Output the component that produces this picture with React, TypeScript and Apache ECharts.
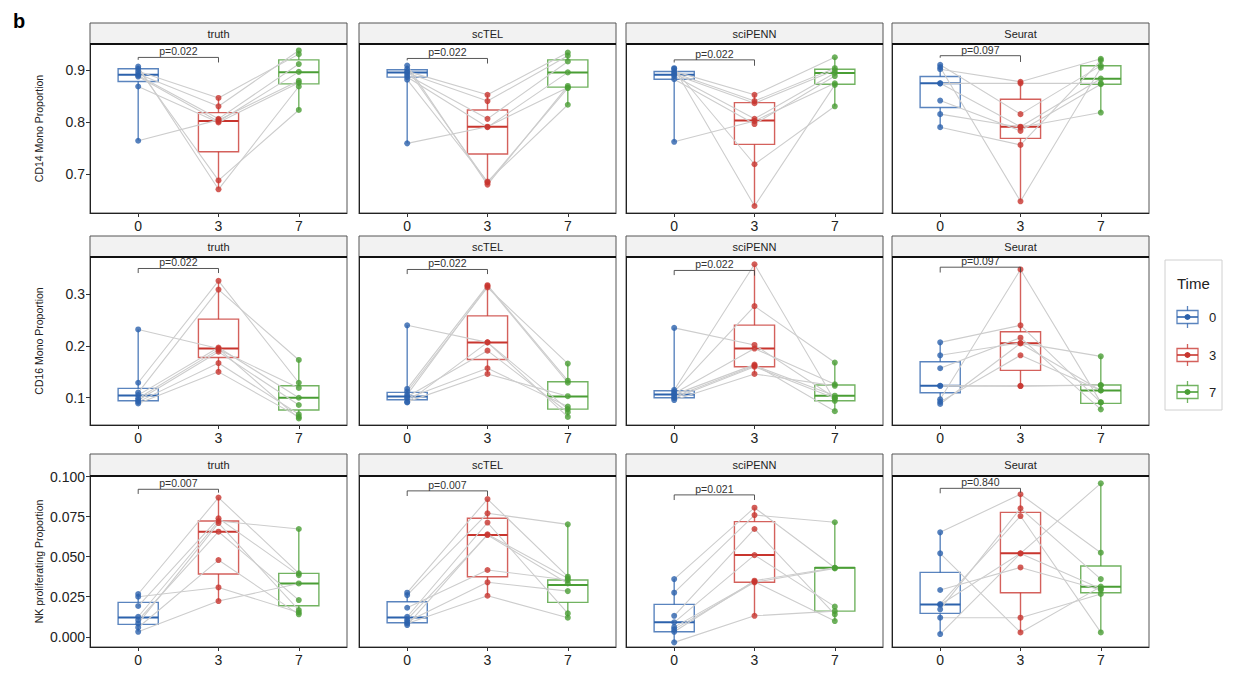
import React, { useEffect, useRef } from 'react';
import * as echarts from 'echarts';

// ---------- data ----------
const timeLabels = ['0', '3', '7'];
const methods = ['truth', 'scTEL', 'sciPENN', 'Seurat'];
const rowTitles = ['CD14 Mono Proportion', 'CD16 Mono Proportion', 'NK proliferating Proportion'];
const rowYMin = [0.6256, 0.0473, -0.0064];
const rowYMax = [0.9494, 0.372, 0.1004];
const rowTicks = [[0.7, 0.8, 0.9], [0.1, 0.2, 0.3], [0, 0.025, 0.05, 0.075, 0.1]];
const rowDecimals = [1, 1, 3];
const pLabels = [
  ['p=0.022', 'p=0.022', 'p=0.022', 'p=0.097'],
  ['p=0.022', 'p=0.022', 'p=0.022', 'p=0.097'],
  ['p=0.007', 'p=0.007', 'p=0.021', 'p=0.840'],
];
// bracket: [y, left tip y, right tip y]
const brackets = [
  [[0.9237, 0.919, 0.914], [0.9217, 0.918, 0.912], [0.919, 0.914, 0.9077], [0.927, 0.923, 0.915]],
  [[0.3498, 0.341, 0.341], [0.3479, 0.339, 0.339], [0.346, 0.337, 0.336], [0.3523, 0.342, 0.342]],
  [[0.0921, 0.0892, 0.09], [0.0911, 0.0879, 0.0879], [0.0886, 0.0854, 0.0854], [0.0927, 0.0896, 0.09]],
];

// paired subject values: [day0[], day3[], day7[]]
const cd14Truth = [
  [0.906, 0.902, 0.897, 0.892, 0.889, 0.887, 0.868, 0.764],
  [0.671, 0.688, 0.846, 0.830, 0.806, 0.801, 0.799, 0.804],
  [0.868, 0.823, 0.930, 0.937, 0.911, 0.896, 0.875, 0.879],
];
const cd14ScTEL = [
  [0.908, 0.902, 0.897, 0.894, 0.890, 0.886, 0.881, 0.759],
  [0.680, 0.684, 0.852, 0.840, 0.806, 0.790, 0.686, 0.791],
  [0.869, 0.865, 0.933, 0.927, 0.916, 0.895, 0.833, 0.866],
];
const cd14SciPENN = [
  [0.903, 0.902, 0.897, 0.894, 0.891, 0.888, 0.882, 0.762],
  [0.639, 0.719, 0.852, 0.840, 0.836, 0.806, 0.796, 0.802],
  [0.871, 0.830, 0.924, 0.903, 0.899, 0.894, 0.888, 0.874],
];
const cd14Seurat = [
  [0.9096, 0.905, 0.901, 0.874, 0.874, 0.841, 0.815, 0.790],
  [0.815, 0.648, 0.877, 0.874, 0.791, 0.783, 0.790, 0.756],
  [0.908, 0.904, 0.921, 0.874, 0.883, 0.8724, 0.818, 0.918],
];
const cd16Truth = [
  [0.232, 0.129, 0.110, 0.105, 0.099, 0.095, 0.092, 0.089],
  [0.195, 0.326, 0.309, 0.197, 0.193, 0.189, 0.167, 0.150],
  [0.060, 0.129, 0.173, 0.100, 0.119, 0.086, 0.068, 0.063],
];
const cd16ScTEL = [
  [0.240, 0.117, 0.112, 0.106, 0.102, 0.099, 0.092, 0.091],
  [0.207, 0.3175, 0.313, 0.316, 0.191, 0.157, 0.146, 0.207],
  [0.078, 0.133, 0.166, 0.129, 0.072, 0.083, 0.103, 0.063],
];
const cd16SciPENN = [
  [0.235, 0.115, 0.112, 0.108, 0.106, 0.102, 0.099, 0.0955],
  [0.202, 0.358, 0.277, 0.195, 0.164, 0.162, 0.160, 0.146],
  [0.100, 0.094, 0.168, 0.126, 0.074, 0.104, 0.099, 0.123],
];
const cd16Seurat = [
  [0.207, 0.182, 0.157, 0.123, 0.123, 0.097, 0.092, 0.088],
  [0.240, 0.206, 0.216, 0.123, 0.1225, 0.348, 0.182, 0.205],
  [0.091, 0.180, 0.0775, 0.1245, 0.124, 0.091, 0.114, 0.114],
];
const nkTruth = [
  [0.0267, 0.025, 0.0192, 0.0125, 0.0104, 0.0083, 0.0058, 0.0031],
  [0.0869, 0.0308, 0.074, 0.0723, 0.0656, 0.071, 0.0479, 0.0223],
  [0.0396, 0.0152, 0.0385, 0.0673, 0.0229, 0.0167, 0.014, 0.0333],
];
const nkScTEL = [
  [0.0275, 0.026, 0.0181, 0.0125, 0.0108, 0.0094, 0.0083, 0.0073],
  [0.086, 0.0771, 0.0417, 0.0713, 0.0635, 0.034, 0.0256, 0.064],
  [0.0375, 0.0702, 0.0354, 0.0146, 0.0333, 0.0285, 0.0119, 0.0365],
];
const nkSciPENN = [
  [0.036, 0.0275, 0.0131, 0.009, 0.006, 0.0046, 0.0031, -0.0035],
  [0.0806, 0.076, 0.0673, 0.051, 0.0344, 0.034, 0.035, 0.0131],
  [0.0431, 0.0715, 0.014, 0.0188, 0.0098, 0.0427, 0.0431, 0.016],
];
const nkSeurat = [
  [0.0652, 0.0521, 0.0292, 0.0204, 0.020, 0.0171, 0.0119, 0.0017],
  [0.089, 0.0027, 0.0433, 0.0754, 0.0521, 0.0802, 0.0119, 0.052],
  [0.0525, 0.0313, 0.0292, 0.0027, 0.0958, 0.036, 0.0267, 0.030],
];

// box statistics per day: [min, q1, median, q3, max]
const cd14TruthBox = [[0.765, 0.8776, 0.8904, 0.9019, 0.9077], [0.671, 0.743, 0.802, 0.818, 0.846], [0.823, 0.873, 0.8955, 0.919, 0.9365]];
const cd14ScTELBox = [[0.759, 0.886, 0.895, 0.900, 0.908], [0.680, 0.7385, 0.791, 0.823, 0.852], [0.833, 0.8667, 0.895, 0.919, 0.933]];
const cd14SciPENNBox = [[0.762, 0.882, 0.8904, 0.8968, 0.903], [0.639, 0.757, 0.8026, 0.837, 0.852], [0.8295, 0.8724, 0.8936, 0.901, 0.9237]];
const cd14SeuratBox = [[0.790, 0.8276, 0.8744, 0.887, 0.9096], [0.648, 0.7686, 0.791, 0.8436, 0.877], [0.818, 0.8724, 0.8827, 0.9077, 0.9205]];
const cd16TruthBox = [[0.089, 0.0942, 0.1045, 0.118, 0.232], [0.150, 0.1779, 0.1952, 0.2519, 0.326], [0.060, 0.0762, 0.100, 0.1232, 0.1734]];
const cd16ScTELBox = [[0.091, 0.096, 0.1026, 0.1103, 0.2403], [0.1457, 0.174, 0.2068, 0.2583, 0.3175], [0.0633, 0.078, 0.1026, 0.131, 0.1663]];
const cd16SciPENNBox = [[0.0955, 0.100, 0.1064, 0.1135, 0.235], [0.1457, 0.1598, 0.1952, 0.2403, 0.358], [0.0743, 0.0942, 0.1039, 0.1245, 0.168]];
const cd16SeuratBox = [[0.0878, 0.1097, 0.1232, 0.1695, 0.2068], [0.1225, 0.1528, 0.2055, 0.2274, 0.348], [0.0775, 0.089, 0.1142, 0.1245, 0.1804]];
const nkTruthBox = [[0.0031, 0.0077, 0.0121, 0.02146, 0.0267], [0.0223, 0.0392, 0.0656, 0.0723, 0.0869], [0.014, 0.0194, 0.0333, 0.0396, 0.0673]];
const nkScTELBox = [[0.0073, 0.00875, 0.0121, 0.0219, 0.0275], [0.0256, 0.0375, 0.0635, 0.074, 0.086], [0.0119, 0.0215, 0.0323, 0.0354, 0.0702]];
const nkSciPENNBox = [[-0.0035, 0.0031, 0.009, 0.0202, 0.036], [0.0131, 0.034, 0.051, 0.0719, 0.0806], [0.0098, 0.016, 0.0431, 0.0431, 0.0715]];
const nkSeuratBox = [[0.0017, 0.0146, 0.0202, 0.0402, 0.0652], [0.0027, 0.0275, 0.0521, 0.0777, 0.089], [0.0027, 0.0275, 0.0313, 0.0442, 0.0958]];

const panelPoints = [
  [cd14Truth, cd14ScTEL, cd14SciPENN, cd14Seurat],
  [cd16Truth, cd16ScTEL, cd16SciPENN, cd16Seurat],
  [nkTruth, nkScTEL, nkSciPENN, nkSeurat],
];
const panelBoxes = [
  [cd14TruthBox, cd14ScTELBox, cd14SciPENNBox, cd14SeuratBox],
  [cd16TruthBox, cd16ScTELBox, cd16SciPENNBox, cd16SeuratBox],
  [nkTruthBox, nkScTELBox, nkSciPENNBox, nkSeuratBox],
];

// ---------- style / layout ----------
const FONT = 'Liberation Sans, Arial, Helvetica, sans-serif';
const timeColors = ['#2C62AC', '#C8352E', '#4A9E35'];
const timeEdges = ['rgba(44,98,172,0.78)', 'rgba(200,53,46,0.78)', 'rgba(74,158,53,0.78)'];
const colLeft = [90, 359, 626, 892];
const panelW = 257;
const plotTop = [44, 257, 476];
const plotBottom = [213, 425, 647];
const stripTop = [23, 236, 454];
const boxHalf = 0.25;

function renderBox(params: any, api: any) {
  const t = api.value(0);
  const mn = api.value(1), q1 = api.value(2), md = api.value(3), q3 = api.value(4), mx = api.value(5);
  const ti = Math.round(t);
  const edge = timeEdges[ti];
  const col = timeColors[ti];
  const pTop = api.coord([t, mx]);
  const pBot = api.coord([t, mn]);
  const a = api.coord([t - boxHalf, q3]);
  const b = api.coord([t + boxHalf, q1]);
  const m = api.coord([t, md]);
  return {
    type: 'group',
    children: [
      { type: 'line', shape: { x1: pTop[0], y1: pTop[1], x2: pTop[0], y2: a[1] }, style: { stroke: edge, lineWidth: 1.4 } },
      { type: 'line', shape: { x1: pBot[0], y1: b[1], x2: pBot[0], y2: pBot[1] }, style: { stroke: edge, lineWidth: 1.4 } },
      { type: 'rect', shape: { x: a[0], y: a[1], width: b[0] - a[0], height: b[1] - a[1] }, style: { fill: 'rgba(255,255,255,0)', stroke: edge, lineWidth: 1.4 } },
      { type: 'line', shape: { x1: a[0], y1: m[1], x2: b[0], y2: m[1] }, style: { stroke: col, lineWidth: 2 } },
    ],
  };
}

function makeBracketRenderer(label: string) {
  return (params: any, api: any) => {
    const x0 = api.value(0), x1 = api.value(1), y = api.value(2), tl = api.value(3), tr = api.value(4);
    const p1 = api.coord([x0, tl]);
    const p2 = api.coord([x0, y]);
    const p3 = api.coord([x1, y]);
    const p4 = api.coord([x1, tr]);
    return {
      type: 'group',
      children: [
        { type: 'polyline', shape: { points: [p1, p2, p3, p4] }, style: { stroke: '#444', lineWidth: 0.9, fill: 'none' } },
        {
          type: 'text',
          x: (p2[0] + p3[0]) / 2,
          y: p2[1] - 0.5,
          style: { text: label, align: 'center', verticalAlign: 'bottom', fontSize: 10.5, fontFamily: FONT, fill: '#333' },
        },
      ],
    };
  };
}

function buildOption() {
  const grid: any[] = [];
  const xAxis: any[] = [];
  const yAxis: any[] = [];
  const series: any[] = [];
  const graphic: any[] = [];

  for (let r = 0; r < 3; r++) {
    for (let c = 0; c < 4; c++) {
      const idx = r * 4 + c;
      grid.push({
        left: colLeft[c], top: plotTop[r], width: panelW, height: plotBottom[r] - plotTop[r],
        show: true, borderColor: '#555', borderWidth: 1, containLabel: false, outerBoundsMode: 'none',
      });
      xAxis.push({
        gridIndex: idx, type: 'value', min: -0.6, max: 2.6,
        axisLine: { show: true, onZero: false, lineStyle: { color: '#222', width: 1 } },
        axisTick: { show: true, customValues: [0, 1, 2], length: 4, lineStyle: { color: '#333' } },
        axisLabel: {
          show: true, customValues: [0, 1, 2], formatter: (v: number) => timeLabels[Math.round(v)] ?? '',
          fontSize: 14, color: '#222', margin: 6, fontFamily: FONT,
        },
        splitLine: { show: false },
      });
      yAxis.push({
        gridIndex: idx, type: 'value', min: rowYMin[r], max: rowYMax[r],
        axisLine: { show: true, onZero: false, lineStyle: { color: '#222', width: 1 } },
        axisTick: { show: c === 0, customValues: rowTicks[r], length: 4, lineStyle: { color: '#333' } },
        axisLabel: {
          show: c === 0, customValues: rowTicks[r], formatter: (v: number) => v.toFixed(rowDecimals[r]),
          fontSize: 14, color: '#222', margin: 5, fontFamily: FONT,
        },
        splitLine: { show: false },
      });

      const boxes = panelBoxes[r][c];
      series.push({
        type: 'custom', xAxisIndex: idx, yAxisIndex: idx, silent: true, z: 2,
        renderItem: renderBox,
        encode: { x: 0, y: [1, 2, 3, 4, 5] },
        data: boxes.map((b, t) => [t, ...b]),
      });

      const pts = panelPoints[r][c];
      for (let i = 0; i < pts[0].length; i++) {
        series.push({
          type: 'line', xAxisIndex: idx, yAxisIndex: idx, silent: true, z: 3,
          symbol: 'none', lineStyle: { color: '#CDCDCD', width: 1.1 },
          data: [[0, pts[0][i]], [1, pts[1][i]], [2, pts[2][i]]],
        });
      }
      const sdata: any[] = [];
      pts.forEach((arr, t) => arr.forEach((v) => sdata.push({ value: [t, v], itemStyle: { color: timeColors[t] } })));
      series.push({
        type: 'scatter', xAxisIndex: idx, yAxisIndex: idx, silent: true, z: 4,
        symbolSize: 6, data: sdata,
      });

      const br = brackets[r][c];
      series.push({
        type: 'custom', xAxisIndex: idx, yAxisIndex: idx, silent: true, z: 5,
        renderItem: makeBracketRenderer(pLabels[r][c]),
        encode: { x: [0, 1], y: [2, 3, 4] },
        data: [[0, 1, br[0], br[1], br[2]]],
      });

      // strip
      graphic.push({
        type: 'rect', silent: true, z: 10,
        shape: { x: colLeft[c], y: stripTop[r], width: panelW, height: plotTop[r] - stripTop[r] },
        style: { fill: '#F2F2F2', stroke: '#555', lineWidth: 1 },
      });
      graphic.push({
        type: 'text', silent: true, z: 11,
        x: colLeft[c] + panelW / 2, y: (stripTop[r] + plotTop[r]) / 2,
        style: { text: methods[c], align: 'center', verticalAlign: 'middle', fontSize: 11, fontFamily: FONT, fill: '#222' },
      });
      graphic.push({
        type: 'line', silent: true, z: 12,
        shape: { x1: colLeft[c], y1: plotTop[r], x2: colLeft[c] + panelW, y2: plotTop[r] },
        style: { stroke: '#111', lineWidth: 1.8 },
      });
    }
    graphic.push({
      type: 'text', silent: true, z: 11,
      x: 39, y: (plotTop[r] + plotBottom[r]) / 2, rotation: Math.PI / 2,
      style: { text: rowTitles[r], align: 'center', verticalAlign: 'middle', fontSize: 10.5, fontFamily: FONT, fill: '#222' },
    });
  }

  // panel letter
  graphic.push({
    type: 'text', silent: true, x: 13, y: 11,
    style: { text: 'b', fontSize: 20, fontWeight: 'bold', fontFamily: FONT, fill: '#000' },
  });

  // legend
  graphic.push({
    type: 'rect', silent: true, shape: { x: 1165, y: 260, width: 57, height: 150 },
    style: { fill: '#fff', stroke: '#D0D0D0', lineWidth: 1 },
  });
  graphic.push({
    type: 'text', silent: true, x: 1177, y: 283,
    style: { text: 'Time', verticalAlign: 'middle', fontSize: 15, fontFamily: FONT, fill: '#222' },
  });
  const keyY = [317, 355, 392];
  timeLabels.forEach((lab, t) => {
    const cy = keyY[t];
    graphic.push({ type: 'line', silent: true, shape: { x1: 1187.5, y1: cy - 11, x2: 1187.5, y2: cy + 11 }, style: { stroke: timeEdges[t], lineWidth: 1.3 } });
    graphic.push({ type: 'rect', silent: true, shape: { x: 1177, y: cy - 6.5, width: 21, height: 13 }, style: { fill: '#fff', stroke: timeEdges[t], lineWidth: 1.3 } });
    graphic.push({ type: 'line', silent: true, shape: { x1: 1177, y1: cy, x2: 1198, y2: cy }, style: { stroke: timeColors[t], lineWidth: 1.6 } });
    graphic.push({ type: 'circle', silent: true, shape: { cx: 1187.5, cy, r: 3 }, style: { fill: timeColors[t] } });
    graphic.push({
      type: 'text', silent: true, x: 1209, y: cy,
      style: { text: lab, verticalAlign: 'middle', fontSize: 13, fontFamily: FONT, fill: '#222' },
    });
  });

  return {
    animation: false,
    backgroundColor: '#fff',
    grid, xAxis, yAxis, series, graphic,
  };
}

export default function App() {
  const ref = useRef<HTMLDivElement>(null);
  useEffect(() => {
    if (!ref.current) return;
    const chart = echarts.init(ref.current, null, { renderer: 'svg' });
    chart.setOption(buildOption() as any);
    return () => chart.dispose();
  }, []);
  return (
    <div
      ref={ref}
      style={{ position: 'fixed', left: 0, top: 0, width: 1240, height: 678, background: '#fff' }}
    />
  );
}
